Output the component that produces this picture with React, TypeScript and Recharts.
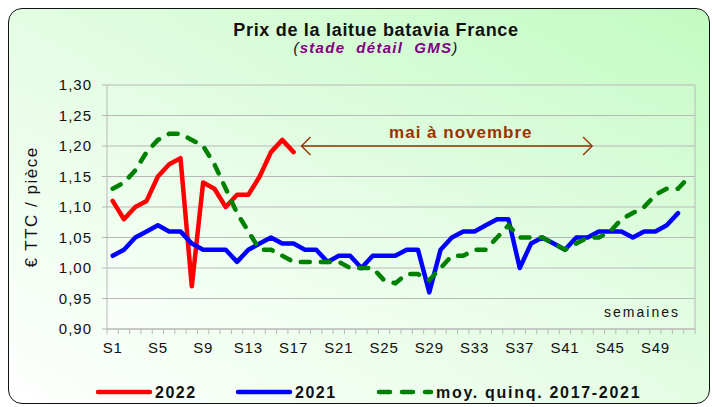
import { LineChart, Line, XAxis, YAxis, CartesianGrid, ReferenceLine } from "recharts";

const semaines = Array.from({ length: 52 }, (_, i) => i + 1);

const prix2022 = [
  1.11, 1.08, 1.10, 1.11, 1.15, 1.17, 1.18, 0.97, 1.14, 1.13, 1.10, 1.12, 1.12,
  1.15, 1.19, 1.21, 1.19,
];

const prix2021 = [
  1.02, 1.03, 1.05, 1.06, 1.07, 1.06, 1.06, 1.04, 1.03, 1.03, 1.03, 1.01, 1.03,
  1.04, 1.05, 1.04, 1.04, 1.03, 1.03, 1.01, 1.02, 1.02, 1.00, 1.02, 1.02, 1.02,
  1.03, 1.03, 0.96, 1.03, 1.05, 1.06, 1.06, 1.07, 1.08, 1.08, 1.00, 1.04, 1.05,
  1.04, 1.03, 1.05, 1.05, 1.06, 1.06, 1.06, 1.05, 1.06, 1.06, 1.07, 1.09,
];

const moyQuinq = [
  1.13, 1.14, 1.16, 1.19, 1.21, 1.22, 1.22, 1.21, 1.20, 1.17, 1.13, 1.09, 1.06,
  1.03, 1.03, 1.02, 1.01, 1.01, 1.01, 1.01, 1.01, 1.00, 1.00, 1.00, 0.98, 0.975,
  0.99, 0.99, 0.98, 1.00, 1.02, 1.02, 1.03, 1.03, 1.05, 1.07, 1.05, 1.05, 1.05,
  1.04, 1.03, 1.04, 1.05, 1.05, 1.06, 1.08, 1.09, 1.10, 1.12, 1.13, 1.13, 1.15,
];

const yTicks = [0.9, 0.95, 1.0, 1.05, 1.1, 1.15, 1.2, 1.25, 1.3];

// période "mai à novembre" (en semaines, sur l'axe)
const periodeLabel = "mai à novembre";
const periodeDebut = 17.7;
const periodeFin = 43.4;
const periodeNiveau = 1.2;

const data = semaines.map((w, i) => ({
  week: w,
  p2022: prix2022[i] ?? null,
  p2021: prix2021[i] ?? null,
  moy: moyQuinq[i] ?? null,
}));

const FONT = "'Liberation Sans', Arial, sans-serif";
const BROWN = "#993300";
const GRID = "#b8b8b8";
const W = 712;
const H = 407;
const MARGIN = { top: 85, right: 17, left: 0, bottom: 48 };
const Y_AXIS_W = 107;
const PLOT_W = W - MARGIN.left - MARGIN.right - Y_AXIS_W;
const STEP = PLOT_W / semaines.length;

const WeekTick = (props: any) => {
  const { x, y, payload } = props;
  const w = payload.value as number;
  const bx = x - STEP / 2;
  return (
    <g>
      <line x1={bx} x2={bx} y1={y} y2={y + 5} stroke={GRID} />
      {w === semaines.length && (
        <line x1={x + STEP / 2} x2={x + STEP / 2} y1={y} y2={y + 5} stroke={GRID} />
      )}
      {(w - 1) % 4 === 0 && (
        <text
          x={x}
          y={y + 24}
          textAnchor="middle"
          fontFamily={FONT}
          fontSize={15}
          letterSpacing={0.8}
          fill="#111"
        >
          {`S${w}`}
        </text>
      )}
    </g>
  );
};

const PeriodArrow = (props: any) => {
  const { x1, y1, x2 } = props;
  const h = 9;
  return (
    <g>
      <line x1={x1} y1={y1} x2={x2} y2={y1} stroke={BROWN} strokeWidth={1.4} />
      <polyline
        points={`${x1 + h},${y1 - h} ${x1},${y1} ${x1 + h},${y1 + h}`}
        fill="none"
        stroke={BROWN}
        strokeWidth={1.4}
      />
      <polyline
        points={`${x2 - h},${y1 - h} ${x2},${y1} ${x2 - h},${y1 + h}`}
        fill="none"
        stroke={BROWN}
        strokeWidth={1.4}
      />
      <text
        x={(x1 + x2) / 2 + 14}
        y={y1 - 8}
        textAnchor="middle"
        fontFamily={FONT}
        fontSize={17}
        fontWeight="bold"
        letterSpacing={1}
        fill={BROWN}
      >
        {periodeLabel}
      </text>
    </g>
  );
};

const legendItems = [
  { label: "2022", color: "#ff0000", x: 98, dash: undefined },
  { label: "2021", color: "#0000ff", x: 238, dash: undefined },
  { label: "moy. quinq. 2017-2021", color: "#008000", x: 379, dash: "11 12" },
];

export default function App() {
  return (
    <div style={{ position: "absolute", left: 0, top: 0, width: W, height: H, overflow: "hidden" }}>
      <div
        style={{
          position: "absolute",
          left: 8,
          top: 8,
          width: 700,
          height: 394,
          border: "1.5px solid #111",
          borderRadius: 14,
          background: "linear-gradient(to top right, #ffffff 0%, #e6fde6 45%, #c2fbc2 100%)",
        }}
      />
      <div style={{ position: "absolute", left: 0, top: 0 }}>
        <LineChart width={W} height={H} data={data} margin={MARGIN}>
          <defs>
            <linearGradient id="plotBg" x1="0" y1="1" x2="1" y2="0">
              <stop offset="0%" stopColor="#fbfffb" />
              <stop offset="100%" stopColor="#cdfbcd" />
            </linearGradient>
          </defs>
          <CartesianGrid vertical={false} stroke={GRID} fill="url(#plotBg)" />
          <XAxis
            type="number"
            dataKey="week"
            domain={[0.5, 52.5]}
            ticks={semaines}
            interval={0}
            tick={<WeekTick />}
            tickLine={false}
            tickSize={0}
            tickMargin={0}
            height={30}
            axisLine={{ stroke: GRID }}
          />
          <YAxis
            type="number"
            domain={[0.9, 1.3]}
            ticks={yTicks}
            interval={0}
            width={Y_AXIS_W}
            tickFormatter={(v: number) => v.toFixed(2).replace(".", ",")}
            tick={{ fill: "#111", fontSize: 15, fontFamily: FONT, letterSpacing: 1 }}
            tickLine={{ stroke: GRID }}
            tickSize={5}
            tickMargin={10}
            axisLine={{ stroke: GRID }}
          />
          <ReferenceLine x={52.5} stroke={GRID} ifOverflow="visible" />
          <ReferenceLine
            segment={[
              { x: periodeDebut, y: periodeNiveau },
              { x: periodeFin, y: periodeNiveau },
            ]}
            ifOverflow="visible"
            shape={PeriodArrow}
          />
          <Line
            dataKey="p2022"
            stroke="#ff0000"
            strokeWidth={4.5}
            dot={false}
            strokeLinecap="round"
            strokeLinejoin="round"
            isAnimationActive={false}
          />
          <Line
            dataKey="p2021"
            stroke="#0000ff"
            strokeWidth={4.5}
            dot={false}
            strokeLinecap="round"
            strokeLinejoin="round"
            isAnimationActive={false}
          />
          <Line
            dataKey="moy"
            stroke="#008000"
            strokeWidth={4.5}
            strokeDasharray="9 11"
            strokeLinecap="round"
            dot={false}
            isAnimationActive={false}
          />
        </LineChart>
      </div>
      <svg
        width={W}
        height={H}
        style={{ position: "absolute", left: 0, top: 0, pointerEvents: "none" }}
      >
        <text
          x={376}
          y={36}
          textAnchor="middle"
          fontFamily={FONT}
          fontSize={18}
          fontWeight="bold"
          letterSpacing={0.7}
          fill="#111"
        >
          Prix de la laitue batavia France
        </text>
        <text
          x={376}
          y={53}
          textAnchor="middle"
          fontFamily={FONT}
          fontSize={15}
          fontStyle="italic"
          letterSpacing={1.3}
          style={{ whiteSpace: "pre" }}
        >
          <tspan fill="#111">(</tspan>
          <tspan fill="#800080" fontWeight="bold">stade  détail  GMS</tspan>
          <tspan fill="#111">)</tspan>
        </text>
        <text
          transform="translate(37,207) rotate(-90)"
          textAnchor="middle"
          fontFamily={FONT}
          fontSize={17}
          letterSpacing={1.5}
          fill="#111"
        >
          € TTC / pièce
        </text>
        <text
          x={680}
          y={317}
          textAnchor="end"
          fontFamily={FONT}
          fontSize={14}
          letterSpacing={2}
          fill="#111"
        >
          semaines
        </text>
        {legendItems.map((it) => (
          <g key={it.label}>
            <line
              x1={it.x}
              x2={it.x + 52}
              y1={392}
              y2={392}
              stroke={it.color}
              strokeWidth={4.5}
              strokeLinecap="round"
              strokeDasharray={it.dash}
            />
            <text
              x={it.x + 57}
              y={398}
              fontFamily={FONT}
              fontSize={16}
              fontWeight="bold"
              letterSpacing={it.dash ? 1.7 : 1.5}
              fill="#111"
            >
              {it.label}
            </text>
          </g>
        ))}
      </svg>
    </div>
  );
}
